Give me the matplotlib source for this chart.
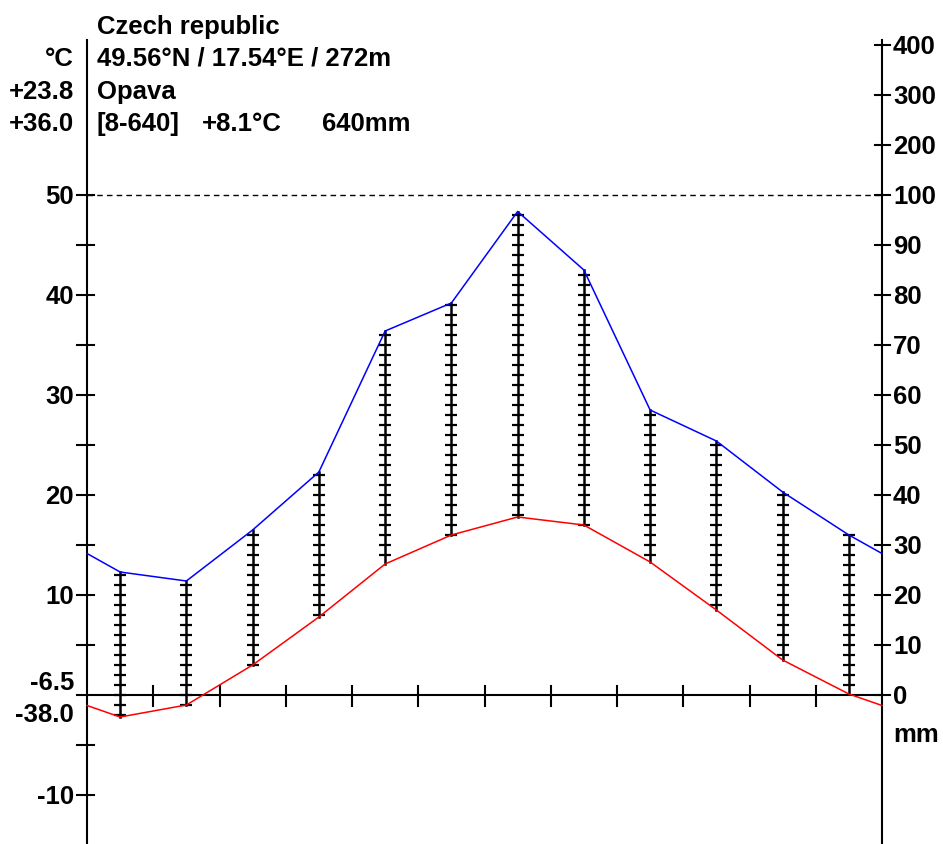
import numpy as np
import matplotlib.pyplot as plt

# monthly climate normals, Opava
temp = [-2.2, -1.0, 3.0, 7.8, 13.1, 16.0, 17.8, 17.0, 13.3, 8.5, 3.5, 0.1]
prec = [24.6, 22.8, 33.0, 44.6, 72.8, 78.4, 96.7, 85.0, 57.0, 50.8, 40.6, 32.0]

country = "Czech republic"
coords = "49.56°N / 17.54°E / 272m"
station = "Opava"
info = ["[8-640]", "+8.1°C", "640mm"]
left_info = ["°C", "+23.8", "+36.0"]
abs_min = ["-6.5", "-38.0"]

temp_ticks = [50, 40, 30, 20, 10, -10]
temp_minor = [45, 35, 25, 15, 5, -5]
prec_ticks = [400, 300, 200, 100, 90, 80, 70, 60, 50, 40, 30, 20, 10, 0]

PX_X = 66.25   # px per month
PX_Y = 10.0    # px per degree


def p2t(p):
    # precipitation mapped to the temperature scale (20 mm = 10 degC, compressed above 100)
    p = np.asarray(p, dtype=float)
    return np.where(p <= 100, p / 2.0, 50 + (p - 100) / 20.0)


def dx(px):
    return px / PX_X


def dy(px):
    return px / PX_Y


plt.rcParams['font.family'] = ['Liberation Sans', 'DejaVu Sans']
plt.rcParams['font.weight'] = 'bold'

fig = plt.figure(figsize=(9.43, 8.44), dpi=100)
ax = fig.add_axes([0, 0, 1, 1])
ax.set_xlim(-87 / PX_X, (943 - 87) / PX_X)
ax.set_ylim((695 - 844) / PX_Y, 695 / PX_Y)
ax.axis('off')

top = (695 - 40) / PX_Y
bottom = (695 - 850) / PX_Y
fs = 18.5

# axes
ax.plot([0, 0], [bottom, top], color='black', lw=1.5)
ax.plot([12, 12], [bottom, top], color='black', lw=1.5)
ax.plot([-dx(10), 12], [0, 0], color='black', lw=1.5)
ax.plot([0, 12], [50, 50], color='black', lw=1, ls=(0, (4, 3)))

# month boundary ticks
for k in range(1, 12):
    ax.plot([k, k], [dy(-11), dy(9)], color='black', lw=1.5)

# left ticks and labels
for t in temp_ticks + temp_minor:
    ax.plot([-dx(10), dx(7)], [t, t], color='black', lw=1.5)
for t in temp_ticks:
    ax.text(-dx(13), t, str(t), ha='right', va='center_baseline', fontsize=fs)

# right ticks and labels
for p in prec_ticks:
    y = float(p2t(p))
    ax.plot([12 - dx(7), 12 + dx(8)], [y, y], color='black', lw=1.5)
    ax.text(12 + dx(11), y, str(p), ha='left', va='center_baseline', fontsize=fs)
ax.text(12 + dx(11), dy(-38), "mm", ha='left', va='center_baseline', fontsize=fs)

# humid period hatching
xc = np.arange(12) + 0.5
pt = p2t(prec)
for x, t, p in zip(xc, temp, pt):
    if p > t:
        ax.plot([x, x], [t, p], color='black', lw=1.8, zorder=3)
        ys = np.arange(np.ceil(t), np.floor(p) + 1)
        ax.plot(np.full(len(ys), x), ys, ls='none', marker='_', ms=9, mew=1.6,
                color='black', zorder=3)

# curves, wrapped half a month at both ends
xs = np.concatenate([[0], xc, [12]])
t_edge = (temp[0] + temp[-1]) / 2
p_edge = (pt[0] + pt[-1]) / 2
ax.plot(xs, np.concatenate([[t_edge], temp, [t_edge]]), color='#ff0000', lw=1.1, zorder=4)
ax.plot(xs, np.concatenate([[p_edge], pt, [p_edge]]), color='#0000ff', lw=1.1, zorder=4)

# header text
x0 = dx(10)
ax.text(x0, dy(695 - 34), country, ha='left', va='baseline', fontsize=fs)
ax.text(x0, dy(695 - 66), coords, ha='left', va='baseline', fontsize=fs)
ax.text(x0, dy(695 - 99), station, ha='left', va='baseline', fontsize=fs)
for s, px in zip(info, [10, 115, 235]):
    ax.text(dx(px), dy(695 - 131), s, ha='left', va='baseline', fontsize=fs)
for s, base in zip(left_info, [66, 99, 131]):
    ax.text(-dx(13), dy(695 - base), s, ha='right', va='baseline', fontsize=fs)

ax.text(-dx(13), dy(15), abs_min[0], ha='right', va='center_baseline', fontsize=fs)
ax.text(-dx(13), dy(-17), abs_min[1], ha='right', va='center_baseline', fontsize=fs)

fig.savefig('out.png', dpi=100)
